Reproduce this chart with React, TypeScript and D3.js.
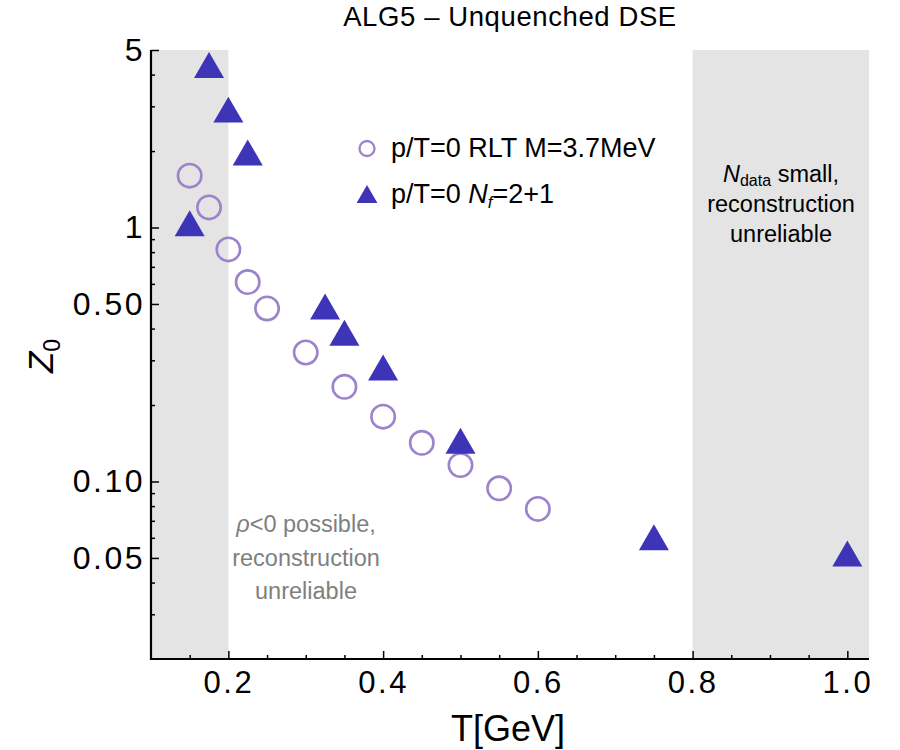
import React, { useEffect, useRef } from 'react';
import * as d3 from 'd3';

// RLT, M = 3.7 MeV (open circles)
const rltT = [0.15, 0.175, 0.2, 0.225, 0.25, 0.3, 0.35, 0.4, 0.45, 0.5, 0.55, 0.6];
const rltZ0 = [1.6, 1.2, 0.82, 0.61, 0.48, 0.322, 0.236, 0.18, 0.142, 0.116, 0.094, 0.078];

// Nf = 2+1 (filled triangles)
const nfT = [0.15, 0.175, 0.2, 0.225, 0.325, 0.35, 0.4, 0.5, 0.75, 1.0];
const nfZ0 = [1.0, 4.2, 2.8, 1.9, 0.47, 0.37, 0.27, 0.139, 0.058, 0.05];

const xMajorTicks = [0.2, 0.4, 0.6, 0.8, 1.0];
const xMinorTicks = [0.15, 0.25, 0.3, 0.35, 0.45, 0.5, 0.55, 0.65, 0.7, 0.75, 0.85, 0.9, 0.95];
const yMajorTicks = [0.05, 0.1, 0.5, 1, 5];
const yMajorLabels = ['0.05', '0.10', '0.50', '1', '5'];
const yMinorTicks = [0.03, 0.04, 0.06, 0.07, 0.08, 0.09, 0.2, 0.3, 0.4, 0.6, 0.7, 0.8, 0.9, 2, 3, 4];

// shaded T ranges where the reconstruction is unreliable
const bands = [[0.1, 0.2], [0.8, 1.028]];

const FONT = '"Liberation Sans", Arial, Helvetica, sans-serif';
const CIRCLE_COLOR = '#9c84cc';
const TRI_COLOR = '#3e34b8';

export default function App() {
  const ref = useRef<SVGSVGElement | null>(null);

  useEffect(() => {
    const left = 151, right = 869, top = 50, bottom = 659;

    const x = d3.scaleLinear().domain([0.1, 1.028]).range([left, right]);
    const y = d3.scaleLog().domain([0.02, 5]).range([bottom, top]);

    const svg = d3.select(ref.current);
    svg.selectAll('*').remove();

    // grey bands
    svg.append('g').selectAll('rect').data(bands).join('rect')
      .attr('x', d => x(d[0]))
      .attr('y', top)
      .attr('width', d => x(d[1]) - x(d[0]))
      .attr('height', bottom - top)
      .attr('fill', '#e4e4e4');

    // title
    svg.append('text')
      .attr('x', (left + right) / 2)
      .attr('y', 26)
      .attr('text-anchor', 'middle')
      .attr('font-family', FONT)
      .attr('font-size', 27.5)
      .attr('letter-spacing', 0.6)
      .text('ALG5 \u2013 Unquenched DSE');

    // x axis, ticks pointing inward
    const xAxis = svg.append('g').attr('transform', `translate(0,${bottom})`);
    xAxis.call(d3.axisBottom(x).tickValues(xMinorTicks).tickSize(-4).tickFormat(() => ''));
    xAxis.append('g').call(d3.axisBottom(x).tickValues(xMajorTicks).tickSize(-8).tickPadding(17).tickFormat(d3.format('.1f')));
    xAxis.selectAll('.domain').remove();
    xAxis.selectAll('line').attr('stroke', '#000').attr('stroke-width', 1.5);
    xAxis.selectAll('text')
      .attr('font-family', FONT)
      .attr('font-size', 31)
      .attr('letter-spacing', 2.5)
      .attr('fill', '#000')
      .attr('dy', '0.55em');

    // y axis
    const yAxis = svg.append('g').attr('transform', `translate(${left},0)`);
    yAxis.call(d3.axisLeft(y).tickValues(yMinorTicks).tickSize(-4).tickFormat(() => ''));
    yAxis.append('g').call(d3.axisLeft(y).tickValues(yMajorTicks).tickSize(-8).tickPadding(6)
      .tickFormat((d, i) => yMajorLabels[i]));
    yAxis.selectAll('.domain').remove();
    yAxis.selectAll('line').attr('stroke', '#000').attr('stroke-width', 1.5);
    yAxis.selectAll('text')
      .attr('font-family', FONT)
      .attr('font-size', 32)
      .attr('letter-spacing', 2.5)
      .attr('fill', '#000');

    // axis lines
    svg.append('path')
      .attr('d', `M${left},${top}V${bottom}H${right}`)
      .attr('fill', 'none')
      .attr('stroke', '#000')
      .attr('stroke-width', 2.2);

    // axis titles
    svg.append('text')
      .attr('x', 508)
      .attr('y', 741)
      .attr('text-anchor', 'middle')
      .attr('font-family', FONT)
      .attr('font-size', 36)
      .text('T[GeV]');

    const zLabel = svg.append('text')
      .attr('transform', 'translate(53,356) rotate(-90)')
      .attr('text-anchor', 'middle')
      .attr('font-family', FONT)
      .attr('font-size', 35);
    zLabel.append('tspan').attr('font-style', 'italic').text('Z');
    zLabel.append('tspan').attr('font-size', 23).attr('dy', 7).text('0');

    // circles
    svg.append('g').selectAll('circle').data(rltT).join('circle')
      .attr('cx', d => x(d))
      .attr('cy', (d, i) => y(rltZ0[i]))
      .attr('r', 11.7)
      .attr('fill', 'none')
      .attr('stroke', CIRCLE_COLOR)
      .attr('stroke-width', 2.6);

    // triangles
    const tri = d3.symbol(d3.symbolTriangle, 390);
    svg.append('g').selectAll('path').data(nfT).join('path')
      .attr('transform', (d, i) => `translate(${x(d)},${y(nfZ0[i])})`)
      .attr('d', tri)
      .attr('fill', TRI_COLOR);

    // legend
    const legend = svg.append('g').attr('font-family', FONT).attr('font-size', 27);
    legend.append('circle')
      .attr('cx', 367).attr('cy', 148.5).attr('r', 7.5)
      .attr('fill', 'none').attr('stroke', CIRCLE_COLOR).attr('stroke-width', 2.3);
    legend.append('text').attr('x', 391).attr('y', 157).text('p/T=0 RLT M=3.7MeV');
    legend.append('path')
      .attr('transform', 'translate(367,197)')
      .attr('d', d3.symbol(d3.symbolTriangle, 187)())
      .attr('fill', TRI_COLOR);
    const l2 = legend.append('text').attr('x', 391).attr('y', 203);
    l2.append('tspan').text('p/T=0 ');
    l2.append('tspan').attr('font-style', 'italic').text('N');
    l2.append('tspan').attr('font-style', 'italic').attr('font-size', 17).attr('dy', 5).text('f');
    l2.append('tspan').attr('dy', -5).text('=2+1');

    // right band note
    const rNote = svg.append('g')
      .attr('font-family', FONT)
      .attr('font-size', 23.5)
      .attr('text-anchor', 'middle');
    const r1 = rNote.append('text').attr('x', 781).attr('y', 182);
    r1.append('tspan').attr('font-style', 'italic').text('N');
    r1.append('tspan').attr('font-size', 16).attr('dy', 4).text('data');
    r1.append('tspan').attr('dy', -4).text(' small,');
    rNote.append('text').attr('x', 781).attr('y', 212).text('reconstruction');
    rNote.append('text').attr('x', 781).attr('y', 242).text('unreliable');

    // left band note
    const lNote = svg.append('g')
      .attr('font-family', FONT)
      .attr('font-size', 23.5)
      .attr('fill', '#7f7f7f')
      .attr('text-anchor', 'middle');
    const n1 = lNote.append('text').attr('x', 306).attr('y', 532);
    n1.append('tspan').attr('font-style', 'italic').text('\u03c1');
    n1.append('tspan').text('<0 possible,');
    lNote.append('text').attr('x', 306).attr('y', 566).text('reconstruction');
    lNote.append('text').attr('x', 306).attr('y', 599).text('unreliable');
  }, []);

  return (
    <svg
      ref={ref}
      width={900}
      height={750}
      style={{ position: 'absolute', left: 0, top: 0, background: '#fff' }}
    />
  );
}
